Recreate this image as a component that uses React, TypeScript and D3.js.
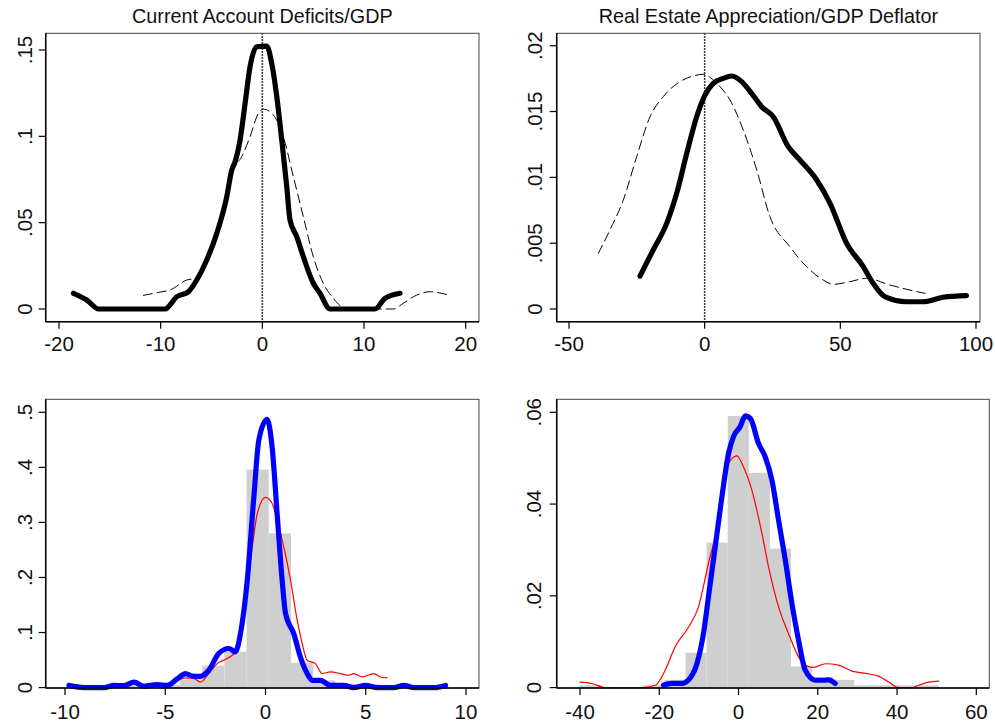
import * as d3 from "d3";

// ---- data ----
type Pt = [number, number];

// top-left: Current Account Deficits/GDP
const caSolid: Pt[] = [
  [-18.58, 0.0091], [-17.27, 0.0052], [-16.1, 0], [-9.57, 0], [-8.42, 0.0071], [-7.27, 0.01],
  [-6.45, 0.0168], [-5.47, 0.0284], [-4.48, 0.0438], [-3.5, 0.065], [-3.01, 0.0805], [-2.68, 0.0853],
  [-2.19, 0.0979], [-1.7, 0.119], [-1.21, 0.1403], [-0.55, 0.1519], [0.43, 0.1523], [0.92, 0.1423],
  [1.42, 0.123], [1.91, 0.0979], [2.4, 0.0708], [2.72, 0.0515], [3.38, 0.0419], [4.03, 0.0303],
  [5.01, 0.0149], [5.67, 0.0091], [6.66, 0], [11.08, 0], [12.06, 0.0062], [13.54, 0.0091],
];
const caDashed: Pt[] = [
  [-11.7, 0.0079], [-10.06, 0.0098], [-9.08, 0.011], [-7.43, 0.0168], [-6.45, 0.0178], [-5.14, 0.0342],
  [-4.16, 0.0477], [-3.5, 0.0631], [-2.85, 0.0805], [-2.03, 0.0882], [-1.21, 0.0998], [-0.39, 0.1133],
  [0.1, 0.1157], [1.08, 0.1124], [2.06, 0.0998], [3.05, 0.0766], [4.03, 0.0535], [5.01, 0.0303],
  [5.99, 0.0149], [6.98, 0.0062], [7.8, 0.0013], [8.62, 0], [12.88, 0], [13.86, 0.0033],
  [14.85, 0.0071], [16.49, 0.01], [18.29, 0.0081],
];

// top-right: Real Estate Appreciation/GDP Deflator
const reSolid: Pt[] = [
  [-23.84, 0.0025], [-18.93, 0.0045], [-14.0, 0.0065], [-10.3, 0.0088], [-6.63, 0.0118], [-2.95, 0.0146],
  [0.1, 0.01625], [3.17, 0.01714], [6.85, 0.01752], [9.95, 0.0177], [13.63, 0.01727], [17.3, 0.01638],
  [20.98, 0.01537], [25.28, 0.0146], [30.8, 0.01233], [35.1, 0.01132], [41.3, 0.0098], [46.2, 0.00803],
  [52.3, 0.005], [58.44, 0.00322], [62.1, 0.00195], [66.4, 0.00094], [74.4, 0.00055], [80.5, 0.00055],
  [87.9, 0.00089], [96.5, 0.00101],
];
const reDashed: Pt[] = [
  [-39.2, 0.00423], [-34.9, 0.006], [-30.0, 0.00828], [-25.05, 0.01157], [-20.15, 0.0146], [-15.25, 0.01613],
  [-9.1, 0.01727], [-4.2, 0.0177], [-0.5, 0.01783], [4.42, 0.01714], [9.32, 0.01588], [14.22, 0.0136],
  [19.2, 0.01056], [24.06, 0.00701], [31.4, 0.00473], [37.6, 0.00321], [43.7, 0.0022], [47.4, 0.00187],
  [53.5, 0.00208], [59.7, 0.00233], [68.3, 0.00182], [75.6, 0.00144], [81.2, 0.00119],
];

// bottom-left histogram + densities
const caBinStart = -9.8;
const caBinWidth = 1.107;
const caBins = [0.005, 0, 0.005, 0.005, 0.005, 0.015, 0.04, 0.065, 0.396, 0.28, 0.045, 0.013, 0.007, 0.006, 0.003, 0, 0.003];
const caBlue: Pt[] = [
  [-9.8, 0.004], [-9.05, 0], [-8.05, 0], [-7.55, 0.004], [-7.05, 0.0036], [-6.56, 0.01], [-6.06, 0.0024],
  [-5.4, 0.0055], [-4.9, 0.004], [-4.4, 0.016], [-3.99, 0.0255], [-3.65, 0.021], [-3.24, 0.0205],
  [-2.83, 0.0315], [-2.33, 0.062], [-1.83, 0.071], [-1.5, 0.065], [-1.25, 0.098], [-0.91, 0.195],
  [-0.58, 0.3465], [-0.33, 0.45], [0.08, 0.487], [0.33, 0.437], [0.58, 0.316], [0.83, 0.195],
  [1.0, 0.1345], [1.41, 0.098], [1.74, 0.0556], [2.08, 0.0255], [2.33, 0.0133], [2.74, 0.0133],
  [3.24, 0.004], [3.9, 0.004], [4.4, 0], [4.99, 0.004], [5.57, 0], [6.4, 0], [6.9, 0.004], [7.4, 0],
  [8.4, 0], [8.98, 0.004],
];
const caRed: Pt[] = [
  [-4.74, 0.004], [-3.99, 0.0175], [-3.57, 0.0164], [-3.24, 0.0102], [-2.83, 0.0255], [-2.41, 0.0436],
  [-1.91, 0.0527], [-1.41, 0.068], [-1.08, 0.1345], [-0.66, 0.2556], [-0.41, 0.316], [0, 0.3455],
  [0.33, 0.3345], [0.58, 0.304], [0.91, 0.2556], [1.25, 0.195], [1.58, 0.1224], [1.83, 0.08],
  [2.08, 0.0496], [2.49, 0.0436], [2.83, 0.0255], [3.24, 0.0284], [3.74, 0.0255], [4.15, 0.0224],
  [4.4, 0.0255], [4.82, 0.0193], [5.4, 0.0255], [5.73, 0.0193], [6.06, 0.0175],
];

// bottom-right histogram + densities
const reBinStart = -40;
const reBinWidth = 5.324;
const reBins = [0.0005, 0, 0, 0.0005, 0.0017, 0.0076, 0.0316, 0.0592, 0.0468, 0.0303, 0.0046, 0.0023, 0.0017, 0.0005, 0.0005, 0.0005, 0.0005];
const reBlue: Pt[] = [
  [-18.94, 0.0005], [-16.8, 0.0009], [-14.3, 0.0009], [-12.2, 0.0021], [-10.5, 0.0052], [-8.84, 0.0118],
  [-7.58, 0.0198], [-5.88, 0.0307], [-4.19, 0.0416], [-2.5, 0.0511], [-1.26, 0.0547], [0.43, 0.0569],
  [1.69, 0.0592], [2.95, 0.0587], [5.05, 0.0532], [6.74, 0.0503], [8.43, 0.0452], [10.1, 0.0365],
  [11.8, 0.0278], [13.48, 0.0183], [15.15, 0.0103], [16.84, 0.0038], [19.4, 0.0016], [21.5, 0.0016],
  [22.7, 0.0017], [24.4, 0.0009],
];
const reRed: Pt[] = [
  [-40, 0.0012], [-37.0, 0.0009], [-33.7, 0], [-24.4, 0], [-21.0, 0.0005], [-18.5, 0.0038], [-16.0, 0.0089],
  [-12.6, 0.0132], [-10.1, 0.0176], [-7.58, 0.0271], [-5.05, 0.0358], [-2.53, 0.0489], [-0.42, 0.0505],
  [1.26, 0.0481], [3.38, 0.043], [5.9, 0.0336], [7.58, 0.0263], [10.1, 0.0176], [12.6, 0.0118],
  [15.15, 0.0067], [16.84, 0.0049], [18.94, 0.0044], [21.9, 0.0052], [25.25, 0.0049], [28.6, 0.0036],
  [32.0, 0.0031], [35.35, 0.0025], [37.9, 0.0012], [40.4, 0], [43.8, 0], [45.45, 0.0005], [48, 0.0012],
  [50.5, 0.0014],
];

const xTicksCA = [-20, -10, 0, 10, 20];
const yTicksCA = [0, 0.05, 0.1, 0.15];
const yLabelsCA = ["0", ".05", ".1", ".15"];
const xTicksRE = [-50, 0, 50, 100];
const yTicksRE = [0, 0.005, 0.01, 0.015, 0.02];
const yLabelsRE = ["0", ".005", ".01", ".015", ".02"];
const xTicksCAh = [-10, -5, 0, 5, 10];
const yTicksCAh = [0, 0.1, 0.2, 0.3, 0.4, 0.5];
const yLabelsCAh = ["0", ".1", ".2", ".3", ".4", ".5"];
const xTicksREh = [-40, -20, 0, 20, 40, 60];
const yTicksREh = [0, 0.02, 0.04, 0.06];
const yLabelsREh = ["0", ".02", ".04", ".06"];

const FONT = "Liberation Sans, Arial, sans-serif";

interface Series {
  pts: Pt[];
  color: string;
  width: number;
  dash?: string;
}

interface PanelProps {
  title?: string;
  box: [number, number, number, number]; // left, top, right, bottom
  xDomain: [number, number];
  xRange: [number, number];
  yDomain: [number, number];
  yRange: [number, number];
  xTicks: number[];
  yTicks: number[];
  yLabels: string[];
  yLabelX: number;
  xLabelY: number;
  bins?: { start: number; width: number; heights: number[] };
  series: Series[];
  zeroLine?: boolean;
}

function Panel(p: PanelProps) {
  const [l, t, r, b] = p.box;
  const x = d3.scaleLinear().domain(p.xDomain).range(p.xRange);
  const y = d3.scaleLinear().domain(p.yDomain).range(p.yRange);
  const line = d3
    .line<Pt>()
    .x((d) => x(d[0]))
    .y((d) => y(d[1]))
    .curve(d3.curveMonotoneX);

  return (
    <g>
      {p.title && (
        <text x={(l + r) / 2} y={23} textAnchor="middle" fontSize={19.8} fontFamily={FONT} fill="#111">
          {p.title}
        </text>
      )}
      {p.bins &&
        p.bins.heights.map((h, i) => {
          const x0 = x(p.bins!.start + i * p.bins!.width);
          const x1 = x(p.bins!.start + (i + 1) * p.bins!.width);
          if (h <= 0) return null;
          return (
            <rect key={i} x={x0} y={y(h)} width={x1 - x0} height={y(0) - y(h)} fill="#cfcfcf" />
          );
        })}
      {p.zeroLine && (
        <line x1={x(0)} x2={x(0)} y1={t} y2={b} stroke="#000" strokeWidth={1.6} strokeDasharray="1.5,1.5" />
      )}
      {p.series.map((s, i) => (
        <path
          key={i}
          d={line(s.pts) || ""}
          fill="none"
          stroke={s.color}
          strokeWidth={s.width}
          strokeDasharray={s.dash}
          strokeLinecap="round"
          strokeLinejoin="round"
        />
      ))}
      <rect x={l} y={t} width={r - l} height={b - t} fill="none" stroke="#444" strokeWidth={1} />
      <line x1={l} x2={l} y1={t} y2={b} stroke="#000" strokeWidth={1.5} />
      <line x1={l} x2={r} y1={b} y2={b} stroke="#000" strokeWidth={1.5} />
      {p.xTicks.map((v) => (
        <g key={"x" + v}>
          <line x1={x(v)} x2={x(v)} y1={b} y2={b + 7} stroke="#000" strokeWidth={1.2} />
          <text x={x(v)} y={p.xLabelY} textAnchor="middle" fontSize={20.5} fontFamily={FONT} fill="#111">
            {v}
          </text>
        </g>
      ))}
      {p.yTicks.map((v, i) => (
        <g key={"y" + v}>
          <line x1={l - 7} x2={l} y1={y(v)} y2={y(v)} stroke="#000" strokeWidth={1.2} />
          <text
            transform={`translate(${p.yLabelX},${y(v)}) rotate(-90)`}
            textAnchor="middle"
            fontSize={20.5}
            fontFamily={FONT}
            fill="#111"
          >
            {p.yLabels[i]}
          </text>
        </g>
      ))}
    </g>
  );
}

export default function App() {
  return (
    <div style={{ position: "absolute", left: 0, top: 0 }}>
      <svg width={995} height={724} style={{ display: "block", background: "#fff" }}>
        <Panel
          title="Current Account Deficits/GDP"
          box={[45.7, 33.3, 479, 321.7]}
          xDomain={[-20, 20]}
          xRange={[59, 465.7]}
          yDomain={[0, 0.15]}
          yRange={[309, 50]}
          xTicks={xTicksCA}
          yTicks={yTicksCA}
          yLabels={yLabelsCA}
          yLabelX={32}
          xLabelY={350.5}
          zeroLine
          series={[
            { pts: caDashed, color: "#000", width: 1, dash: "9,5" },
            { pts: caSolid, color: "#000", width: 5.2 },
          ]}
        />
        <Panel
          title="Real Estate Appreciation/GDP Deflator"
          box={[556.7, 33.3, 980, 321.7]}
          xDomain={[-50, 100]}
          xRange={[569, 976]}
          yDomain={[0, 0.02]}
          yRange={[309, 45.7]}
          xTicks={xTicksRE}
          yTicks={yTicksRE}
          yLabels={yLabelsRE}
          yLabelX={542}
          xLabelY={350.5}
          zeroLine
          series={[
            { pts: reDashed, color: "#000", width: 1, dash: "9,5" },
            { pts: reSolid, color: "#000", width: 5.2 },
          ]}
        />
        <Panel
          box={[45.7, 399.3, 479, 688]}
          xDomain={[-10, 10]}
          xRange={[65, 466]}
          yDomain={[0, 0.5]}
          yRange={[687.6, 412.3]}
          xTicks={xTicksCAh}
          yTicks={yTicksCAh}
          yLabels={yLabelsCAh}
          yLabelX={32}
          xLabelY={718.5}
          bins={{ start: caBinStart, width: caBinWidth, heights: caBins }}
          series={[
            { pts: caRed, color: "#ff0000", width: 1.2 },
            { pts: caBlue, color: "#0000ff", width: 5.2 },
          ]}
        />
        <Panel
          box={[556.7, 399.3, 989.3, 688]}
          xDomain={[-40, 60]}
          xRange={[580, 976.3]}
          yDomain={[0, 0.06]}
          yRange={[687.6, 412.3]}
          xTicks={xTicksREh}
          yTicks={yTicksREh}
          yLabels={yLabelsREh}
          yLabelX={541}
          xLabelY={718.5}
          bins={{ start: reBinStart, width: reBinWidth, heights: reBins }}
          series={[
            { pts: reRed, color: "#ff0000", width: 1.2 },
            { pts: reBlue, color: "#0000ff", width: 5.2 },
          ]}
        />
      </svg>
    </div>
  );
}
